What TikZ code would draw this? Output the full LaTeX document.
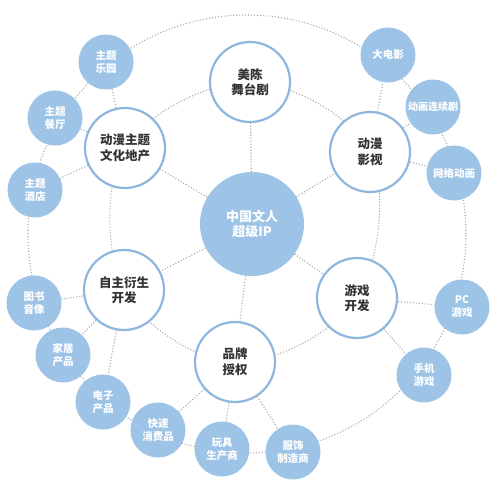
\documentclass[tikz,border=0pt]{standalone}
\usepackage{fontspec}
\newfontfamily\cjk{Noto Sans CJK SC}
\usetikzlibrary{backgrounds}
\definecolor{ipblue}{HTML}{9DC3E6}
\definecolor{ringblue}{HTML}{8FB6DE}
\definecolor{dotgray}{HTML}{ABABAB}
\definecolor{txtdark}{HTML}{333333}
\tikzset{
  hub/.style={circle, fill=ipblue, inner sep=0pt, minimum size=104pt, text=white, align=center,
    font=\cjk\bfseries\fontsize{13}{15.5}\selectfont},
  midnode/.style={circle, draw=ringblue, line width=2.2pt, fill=white, inner sep=0pt, minimum size=80pt,
    text=txtdark, align=center, font=\cjk\bfseries\fontsize{12.5}{15.5}\selectfont},
  leaf/.style={circle, fill=ipblue, inner sep=0pt, minimum size=55pt, text=white, align=center,
    font=\cjk\bfseries\fontsize{10.5}{13}\selectfont},
  dotline/.style={draw=dotgray, line width=1.1pt, dash pattern=on 1.1pt off 1.9pt}
}
\begin{document}
\begin{tikzpicture}[x=1pt,y=-1pt]
\useasboundingbox (0,0) rectangle (500,498);
% hub
\node[hub] (cip) at (252,224) {中国文人\\超级IP};
% middle nodes
\node[midnode] (m1) at (250,82) {美陈\\舞台剧};
\node[midnode] (m2) at (370,152) {动漫\\影视};
\node[midnode] (m3) at (357,298) {游戏\\开发};
\node[midnode] (m4) at (235,362) {品牌\\授权};
\node[midnode] (m5) at (124,290) {自主衍生\\开发};
\node[midnode] (m6) at (125,148) {动漫主题\\文化地产};
% leaves
\node[leaf] (b1) at (106,62) {主题\\乐园};
\node[leaf] (b2) at (55,118) {主题\\餐厅};
\node[leaf] (b3) at (35,190) {主题\\酒店};
\node[leaf] (b4) at (388,55) {大电影};
\node[leaf, font=\cjk\bfseries\fontsize{10}{12}\selectfont] (b5) at (433,107) {动画连续剧};
\node[leaf] (b6) at (454,173) {网络动画};
\node[leaf] (b7) at (462,307) {PC\\游戏};
\node[leaf] (b8) at (424,375) {手机\\游戏};
\node[leaf] (b9) at (293,452) {服饰\\制造商};
\node[leaf] (b10) at (222,449) {玩具\\生产商};
\node[leaf] (b11) at (158,430) {快速\\消费品};
\node[leaf] (b12) at (103,402) {电子\\产品};
\node[leaf] (b13) at (63,355) {家居\\产品};
\node[leaf] (b14) at (34,303) {图书\\音像};
\coordinate (oc) at (247,234);
\begin{pgfonlayer}{background}
  \fill[white] (0,0) rectangle (500,498);
  % outer ring
  \draw[dotline] (oc) circle[radius=219pt];
  % middle ring
  \draw[dotline] plot[smooth cycle, tension=0.6] coordinates {(m1.center) (m2.center) (m3.center) (m4.center) (m5.center) (m6.center)};
  % hub spokes
  \foreach \m in {m1,m2,m3,m4,m5,m6} \draw[dotline] (cip) -- (\m);
  % leaf spokes
  \draw[dotline] (m6) -- (b1);
  \draw[dotline] (m6) -- (b2);
  \draw[dotline] (m6) -- (b3);
  \draw[dotline] (m2) -- (b4);
  \draw[dotline] (m2) -- (b5);
  \draw[dotline] (m2) -- (b6);
  \draw[dotline] (m3) -- (b7);
  \draw[dotline] (m3) -- (b8);
  \draw[dotline] (m4) -- (b9);
  \draw[dotline] (m4) -- (b10);
  \draw[dotline] (m4) -- (b11);
  \draw[dotline] (m5) -- (b12);
  \draw[dotline] (m5) -- (b13);
  \draw[dotline] (m5) -- (b14);
\end{pgfonlayer}
\end{tikzpicture}
\end{document}
